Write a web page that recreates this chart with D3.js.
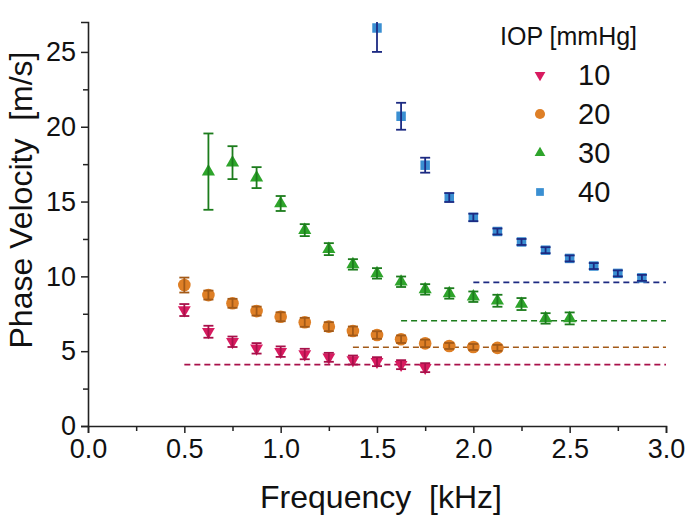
<!DOCTYPE html>
<html>
<head>
<meta charset="utf-8">
<script src="https://cdn.jsdelivr.net/npm/d3@7"></script>
<style>
  body { margin: 0; background: #fff; }
  svg { display: block; font-family: "Liberation Sans", Arial, sans-serif; }
  text { white-space: pre; }
</style>
</head>
<body>
<svg width="685" height="516"></svg>
<script>
// IOP 10 mmHg
const freq10 = [0.5, 0.625, 0.75, 0.875, 1.0, 1.125, 1.25, 1.375, 1.5, 1.625, 1.75];
const vel10 = [7.75, 6.3, 5.63, 5.19, 4.97, 4.81, 4.59, 4.41, 4.3, 4.1, 3.9];
const err10 = [0.4, 0.4, 0.35, 0.35, 0.35, 0.35, 0.3, 0.3, 0.3, 0.3, 0.3];
// IOP 20 mmHg
const freq20 = [0.5, 0.625, 0.75, 0.875, 1.0, 1.125, 1.25, 1.375, 1.5, 1.625, 1.75, 1.875, 2.0, 2.125];
const vel20 = [9.42, 8.75, 8.2, 7.68, 7.3, 6.93, 6.64, 6.35, 6.08, 5.8, 5.52, 5.35, 5.28, 5.22];
const err20 = [0.5, 0.3, 0.3, 0.3, 0.3, 0.3, 0.3, 0.3, 0.25, 0.25, 0.25, 0.2, 0.2, 0.2];
// IOP 30 mmHg
const freq30 = [0.625, 0.75, 0.875, 1.0, 1.125, 1.25, 1.375, 1.5, 1.625, 1.75, 1.875, 2.0, 2.125, 2.25, 2.375, 2.5];
const vel30 = [17.0, 17.6, 16.6, 14.87, 13.09, 11.82, 10.8, 10.2, 9.64, 9.13, 8.86, 8.64, 8.37, 8.15, 7.19, 7.19];
const err30 = [2.55, 1.1, 0.7, 0.5, 0.4, 0.4, 0.35, 0.35, 0.35, 0.35, 0.35, 0.35, 0.4, 0.4, 0.35, 0.4];
// IOP 40 mmHg
const freq40 = [1.5, 1.625, 1.75, 1.875, 2.0, 2.125, 2.25, 2.375, 2.5, 2.625, 2.75, 2.875];
const vel40 = [26.6, 20.7, 17.43, 15.27, 13.94, 13.0, 12.3, 11.75, 11.2, 10.69, 10.2, 9.9];
const err40 = [1.6, 0.9, 0.5, 0.3, 0.25, 0.2, 0.2, 0.2, 0.2, 0.2, 0.2, 0.2];

// plateau (dashed) lines: level and start frequency
const plateauLevel = [4.1, 5.26, 7.03, 9.6];
const plateauStart = [0.5, 1.375, 1.625, 2.0];

const iopLabels = ["10", "20", "30", "40"];
const xTickValues = [0, 0.5, 1.0, 1.5, 2.0, 2.5, 3.0];
const yTickValues = [0, 5, 10, 15, 20, 25];

const series = [
  { name: iopLabels[0], f: freq10, v: vel10, e: err10, fill: "#d81b60", bar: "#a8104a", shape: "tri", size: 72 },
  { name: iopLabels[1], f: freq20, v: vel20, e: err20, fill: "#de7f26", bar: "#a35a18", shape: "circle", size: 125 },
  { name: iopLabels[2], f: freq30, v: vel30, e: err30, fill: "#2ea42b", bar: "#1c7c1c", shape: "triUp", size: 75 },
  { name: iopLabels[3], f: freq40, v: vel40, e: err40, fill: "#3a8fd2", bar: "#1c2a82", shape: "square", size: 90 }
];

const svg = d3.select("svg");
const margin = { top: 22, right: 19, bottom: 90, left: 88 };
const width = +svg.attr("width") - margin.left - margin.right;
const height = +svg.attr("height") - margin.top - margin.bottom;

const x = d3.scaleLinear().domain([0, 3]).range([0, width]);
const y = d3.scaleLinear().domain([0, 27]).range([height, 0]);

const g = svg.append("g").attr("transform", `translate(${margin.left},${margin.top})`);

g.append("clipPath").attr("id", "plotClip")
  .append("rect").attr("x", -20).attr("y", 0).attr("width", width + 40).attr("height", height);

function symbolPath(shape, size) {
  if (shape === "circle") return d3.symbol().type(d3.symbolCircle).size(size)();
  if (shape === "square") return d3.symbol().type(d3.symbolSquare).size(size)();
  return d3.symbol().type(d3.symbolTriangle).size(size)();
}
function symbolRotate(shape) {
  return shape === "tri" ? " rotate(180)" : "";
}

// axes
const axisColor = "#222";
const xAxis = g.append("g").attr("transform", `translate(0,${height})`)
  .call(d3.axisBottom(x).tickValues(xTickValues).tickFormat(d3.format(".1f")).tickSize(7).tickPadding(6));
g.append("g").attr("transform", `translate(0,${height})`)
  .call(d3.axisBottom(x).tickValues(d3.range(0.25, 3, 0.5)).tickFormat("").tickSize(5))
  .select(".domain").remove();

const yAxis = g.append("g")
  .call(d3.axisLeft(y).tickValues(yTickValues).tickSize(7).tickPadding(5));
g.append("g")
  .call(d3.axisLeft(y).tickValues(d3.range(2.5, 27, 5)).tickFormat("").tickSize(5))
  .select(".domain").remove();

g.selectAll(".domain").attr("stroke", axisColor).attr("stroke-width", 1.6);
g.selectAll(".tick line").attr("stroke", axisColor).attr("stroke-width", 1.5);
xAxis.selectAll("text").attr("font-size", 27).attr("fill", "#111").attr("font-family", "Liberation Sans, Arial, sans-serif");
yAxis.selectAll("text").attr("font-size", 27).attr("fill", "#111").attr("font-family", "Liberation Sans, Arial, sans-serif");

// axis titles
svg.append("text")
  .attr("x", margin.left + x(1.5) + 4)
  .attr("y", 508)
  .attr("text-anchor", "middle")
  .attr("font-size", 32)
  .attr("fill", "#111")
  .text("Frequency  [kHz]");

svg.append("text")
  .attr("transform", `translate(32,${200}) rotate(-90)`)
  .attr("text-anchor", "middle")
  .attr("font-size", 32)
  .attr("fill", "#111")
  .text("Phase Velocity  [m/s]");

// dashed plateau lines
const plot = g.append("g").attr("clip-path", "url(#plotClip)");
series.forEach((s, i) => {
  plot.append("line")
    .attr("x1", x(plateauStart[i]))
    .attr("x2", x(3))
    .attr("y1", y(plateauLevel[i]))
    .attr("y2", y(plateauLevel[i]))
    .attr("stroke", s.bar)
    .attr("stroke-width", 1.6)
    .attr("stroke-dasharray", "6,4");
});

// markers then error bars on top
series.forEach(s => {
  const pts = s.f.map((f, i) => ({ f: f, v: s.v[i], e: s.e[i] }));
  const grp = plot.append("g");

  grp.selectAll("path.mark")
    .data(pts)
    .enter().append("path")
    .attr("class", "mark")
    .attr("d", symbolPath(s.shape, s.size))
    .attr("transform", d => `translate(${x(d.f)},${y(d.v)})${symbolRotate(s.shape)}`)
    .attr("fill", s.fill);

  const eb = grp.selectAll("g.err")
    .data(pts)
    .enter().append("g")
    .attr("class", "err")
    .attr("stroke", s.bar)
    .attr("stroke-width", 1.8);
  eb.append("line")
    .attr("x1", d => x(d.f)).attr("x2", d => x(d.f))
    .attr("y1", d => y(d.v - d.e)).attr("y2", d => y(d.v + d.e));
  eb.append("line")
    .attr("x1", d => x(d.f) - 5).attr("x2", d => x(d.f) + 5)
    .attr("y1", d => y(d.v - d.e)).attr("y2", d => y(d.v - d.e));
  eb.append("line")
    .attr("x1", d => x(d.f) - 5).attr("x2", d => x(d.f) + 5)
    .attr("y1", d => y(d.v + d.e)).attr("y2", d => y(d.v + d.e));
});

// legend
const legend = svg.append("g").attr("transform", "translate(504,0)");
legend.append("text")
  .attr("x", -4).attr("y", 45)
  .attr("font-size", 25)
  .attr("fill", "#111")
  .text("IOP [mmHg]");

series.forEach((s, i) => {
  const cy = 75 + i * 39;
  legend.append("path")
    .attr("d", symbolPath(s.shape, s.shape === "circle" ? 80 : s.shape === "square" ? 60 : 50))
    .attr("transform", `translate(36,${cy})${symbolRotate(s.shape)}`)
    .attr("fill", s.fill);
  legend.append("text")
    .attr("x", 74).attr("y", cy + 10)
    .attr("font-size", 29)
    .attr("fill", "#111")
    .text(s.name);
});
</script>
</body>
</html>
